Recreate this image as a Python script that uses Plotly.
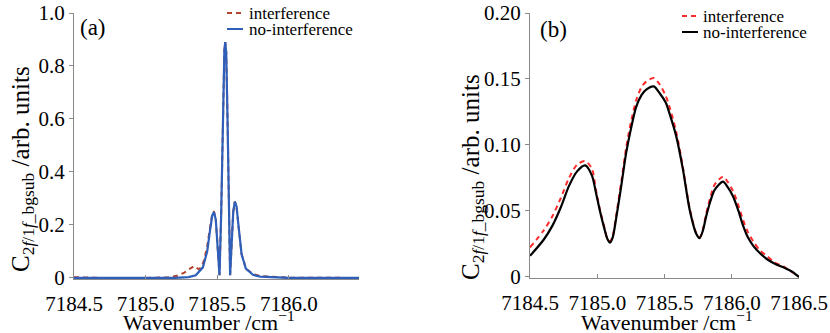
import plotly.graph_objects as go

# ---------------- data: panel (a) ----------------
a_wn_noint = [7184.50, 7185.20, 7185.30, 7185.35, 7185.40, 7185.43, 7185.45, 7185.465, 7185.477,
              7185.49, 7185.505, 7185.516, 7185.528, 7185.540, 7185.550, 7185.556, 7185.563,
              7185.572, 7185.582, 7185.590, 7185.600, 7185.612, 7185.623, 7185.635, 7185.65,
              7185.67, 7185.70, 7185.75, 7185.80, 7185.90, 7186.0, 7186.49]
a_noint = [0.0, 0.0, 0.003, 0.01, 0.04, 0.10, 0.18, 0.235, 0.249,
           0.22, 0.10, 0.01, 0.25, 0.65, 0.86, 0.89, 0.85,
           0.60, 0.20, 0.01, 0.12, 0.25, 0.288, 0.27, 0.19,
           0.09, 0.035, 0.012, 0.005, 0.002, 0.0, 0.0]

a_wn_int = [7184.50, 7184.60, 7184.70, 7185.00, 7185.15, 7185.22, 7185.27, 7185.31, 7185.34,
            7185.37, 7185.39, 7185.41, 7185.43, 7185.45, 7185.465, 7185.477,
            7185.49, 7185.505, 7185.516, 7185.528, 7185.540, 7185.550, 7185.556, 7185.563,
            7185.572, 7185.582, 7185.590, 7185.600, 7185.612, 7185.623, 7185.635, 7185.65,
            7185.67, 7185.70, 7185.75, 7185.80, 7185.85, 7185.90, 7186.0, 7186.49]
a_int = [0.003, 0.002, 0.0, 0.0, 0.002, 0.008, 0.02, 0.035, 0.045,
         0.033, 0.04, 0.07, 0.12, 0.19, 0.24, 0.252,
         0.22, 0.10, 0.01, 0.25, 0.65, 0.86, 0.89, 0.85,
         0.60, 0.20, 0.01, 0.12, 0.25, 0.288, 0.27, 0.19,
         0.09, 0.036, 0.014, 0.007, 0.006, 0.003, 0.001, 0.0]

# ---------------- data: panel (b) ----------------
b_wn = [7184.50, 7184.60, 7184.666, 7184.73, 7184.79, 7184.85, 7184.91, 7184.96, 7184.99,
        7185.02, 7185.052, 7185.075, 7185.095, 7185.115, 7185.14, 7185.18, 7185.215, 7185.25,
        7185.29, 7185.33, 7185.364, 7185.42, 7185.463, 7185.51, 7185.537, 7185.587, 7185.637,
        7185.687, 7185.737, 7185.761, 7185.785, 7185.81, 7185.84, 7185.873, 7185.935, 7185.97,
        7186.01, 7186.05, 7186.085, 7186.12, 7186.16, 7186.21, 7186.26, 7186.32, 7186.383,
        7186.43, 7186.458, 7186.48, 7186.50]
b_noint = [0.016, 0.028, 0.0387, 0.053, 0.069, 0.080, 0.0845, 0.077, 0.064,
           0.050, 0.037, 0.029, 0.026, 0.030, 0.044, 0.070, 0.094, 0.112,
           0.129, 0.138, 0.142, 0.1444, 0.1394, 0.132, 0.124, 0.1067, 0.0815,
           0.051, 0.0325, 0.0294, 0.035, 0.046, 0.057, 0.066, 0.0722, 0.068,
           0.061, 0.050, 0.0387, 0.030, 0.0236, 0.018, 0.0136, 0.010, 0.0073,
           0.005, 0.0035, 0.0015, 0.0]
b_int = [0.0224, 0.035, 0.046, 0.060, 0.075, 0.085, 0.0878, 0.082, 0.066,
         0.051, 0.038, 0.029, 0.027, 0.031, 0.046, 0.073, 0.098, 0.117,
         0.134, 0.144, 0.148, 0.1507, 0.146, 0.137, 0.129, 0.110, 0.083,
         0.052, 0.033, 0.030, 0.036, 0.048, 0.060, 0.070, 0.076, 0.072,
         0.065, 0.054, 0.043, 0.034, 0.027, 0.020, 0.016, 0.011, 0.008,
         0.005, 0.003, 0.0015, 0.0]

a_xticks = [7184.5, 7185.0, 7185.5, 7186.0]
a_xticktext = ["7184.5", "7185.0", "7185.5", "7186.0"]
a_yticks = [0, 0.2, 0.4, 0.6, 0.8, 1.0]
a_yticktext = ["0", "0.2", "0.4", "0.6", "0.8", "1.0"]
b_xticks = [7184.5, 7185.0, 7185.5, 7186.0, 7186.5]
b_xticktext = ["7184.5", "7185.0", "7185.5", "7186.0", "7186.5"]
b_yticks = [0, 0.05, 0.10, 0.15, 0.20]
b_yticktext = ["0", "0.05", "0.10", "0.15", "0.20"]
series_names = ["interference", "no-interference"]

# ---------------- styles ----------------
W, H = 830, 333
FONT = "Times New Roman, Liberation Serif, DejaVu Serif, serif"
RED_A = "#b5442e"
BLUE = "#2f5fb8"
RED_B = "#ff2a2a"
BLACK = "#000000"
AXC = "#8a8a8a"

def px(x):
    return x / W

def py(y):
    return 1 - y / H

fig = go.Figure()
fig.add_trace(go.Scatter(x=a_wn_int, y=a_int, name=series_names[0], mode="lines",
                         line=dict(color=RED_A, width=2, dash="5px,4px"),
                         xaxis="x", yaxis="y", showlegend=False))
fig.add_trace(go.Scatter(x=a_wn_noint, y=a_noint, name=series_names[1], mode="lines",
                         line=dict(color=BLUE, width=2.2),
                         xaxis="x", yaxis="y", showlegend=False))
fig.add_trace(go.Scatter(x=b_wn, y=b_int, name=series_names[0], mode="lines",
                         line=dict(color=RED_B, width=2, dash="5px,4px", shape="spline", smoothing=0.8),
                         xaxis="x2", yaxis="y2", showlegend=False))
fig.add_trace(go.Scatter(x=b_wn, y=b_noint, name=series_names[1], mode="lines",
                         line=dict(color=BLACK, width=2.2, shape="spline", smoothing=0.8),
                         xaxis="x2", yaxis="y2", showlegend=False))

tickfont = dict(family=FONT, size=21, color="black")
common_x = dict(showline=True, linecolor=AXC, linewidth=1, ticks="inside", ticklen=4,
                tickcolor=AXC, showgrid=False, zeroline=False, tickfont=tickfont,
                ticklabelstandoff=6, automargin=False)
common_y = dict(showline=True, linecolor=AXC, linewidth=1, ticks="outside", ticklen=4,
                tickcolor=AXC, showgrid=False, zeroline=False, tickfont=tickfont,
                automargin=False)

fig.update_layout(
    width=W, height=H,
    margin=dict(l=0, r=0, t=0, b=0, autoexpand=False),
    paper_bgcolor="white", plot_bgcolor="white",
    font=dict(family=FONT, color="black"),
    xaxis=dict(domain=[px(74), px(359)], range=[7184.5, 7186.49], anchor="y",
               tickvals=a_xticks, ticktext=a_xticktext, **common_x),
    yaxis=dict(domain=[py(279), py(13)], range=[-0.004, 1.0], anchor="x",
               tickvals=a_yticks, ticktext=a_yticktext, **common_y),
    xaxis2=dict(domain=[px(530), px(799)], range=[7184.5, 7186.5], anchor="y2",
                tickvals=b_xticks, ticktext=b_xticktext, **common_x),
    yaxis2=dict(domain=[py(278), py(13)], range=[-0.0008, 0.2], anchor="x2",
                tickvals=b_yticks, ticktext=b_yticktext, **common_y),
)

ytitle = "C<sub>2<i>f</i>/1<i>f</i>_bgsub</sub> /arb. units"
xtitle = "Wavenumber /cm<sup>−1</sup>"
ann = []
for cx, cy in [(22, 169), (472, 177)]:
    ann.append(dict(text=ytitle, x=px(cx), y=py(cy), xref="paper", yref="paper",
                    xanchor="center", yanchor="middle", textangle=-90, showarrow=False,
                    font=dict(family=FONT, size=25, color="black")))
for cx, cy in [(209, 321), (667, 321)]:
    ann.append(dict(text=xtitle, x=px(cx), y=py(cy), xref="paper", yref="paper",
                    xanchor="center", yanchor="middle", showarrow=False,
                    font=dict(family=FONT, size=22, color="black")))
for txt, cx, cy in [("(a)", 78, 27), ("(b)", 538, 29)]:
    ann.append(dict(text=txt, x=px(cx), y=py(cy), xref="paper", yref="paper",
                    xanchor="left", yanchor="middle", showarrow=False,
                    font=dict(family=FONT, size=23, color="black")))

# legends (manual, compact like the original)
shapes = []
legend_specs = [
    (227, 243, 247, [13, 29], [RED_A, BLUE]),
    (682, 698, 701, [16, 32], [RED_B, BLACK]),
]
for x0, x1, tx, ys, cols in legend_specs:
    for i, (yy, col) in enumerate(zip(ys, cols)):
        shapes.append(dict(type="line", xref="paper", yref="paper",
                           x0=px(x0), x1=px(x1), y0=py(yy), y1=py(yy),
                           line=dict(color=col, width=2, dash="5px,4px" if i == 0 else "solid")))
        ann.append(dict(text=series_names[i], x=px(tx), y=py(yy), xref="paper", yref="paper",
                        xanchor="left", yanchor="middle", showarrow=False,
                        font=dict(family=FONT, size=17, color="black")))

fig.update_layout(annotations=ann, shapes=shapes)
fig.write_html("out.html")
